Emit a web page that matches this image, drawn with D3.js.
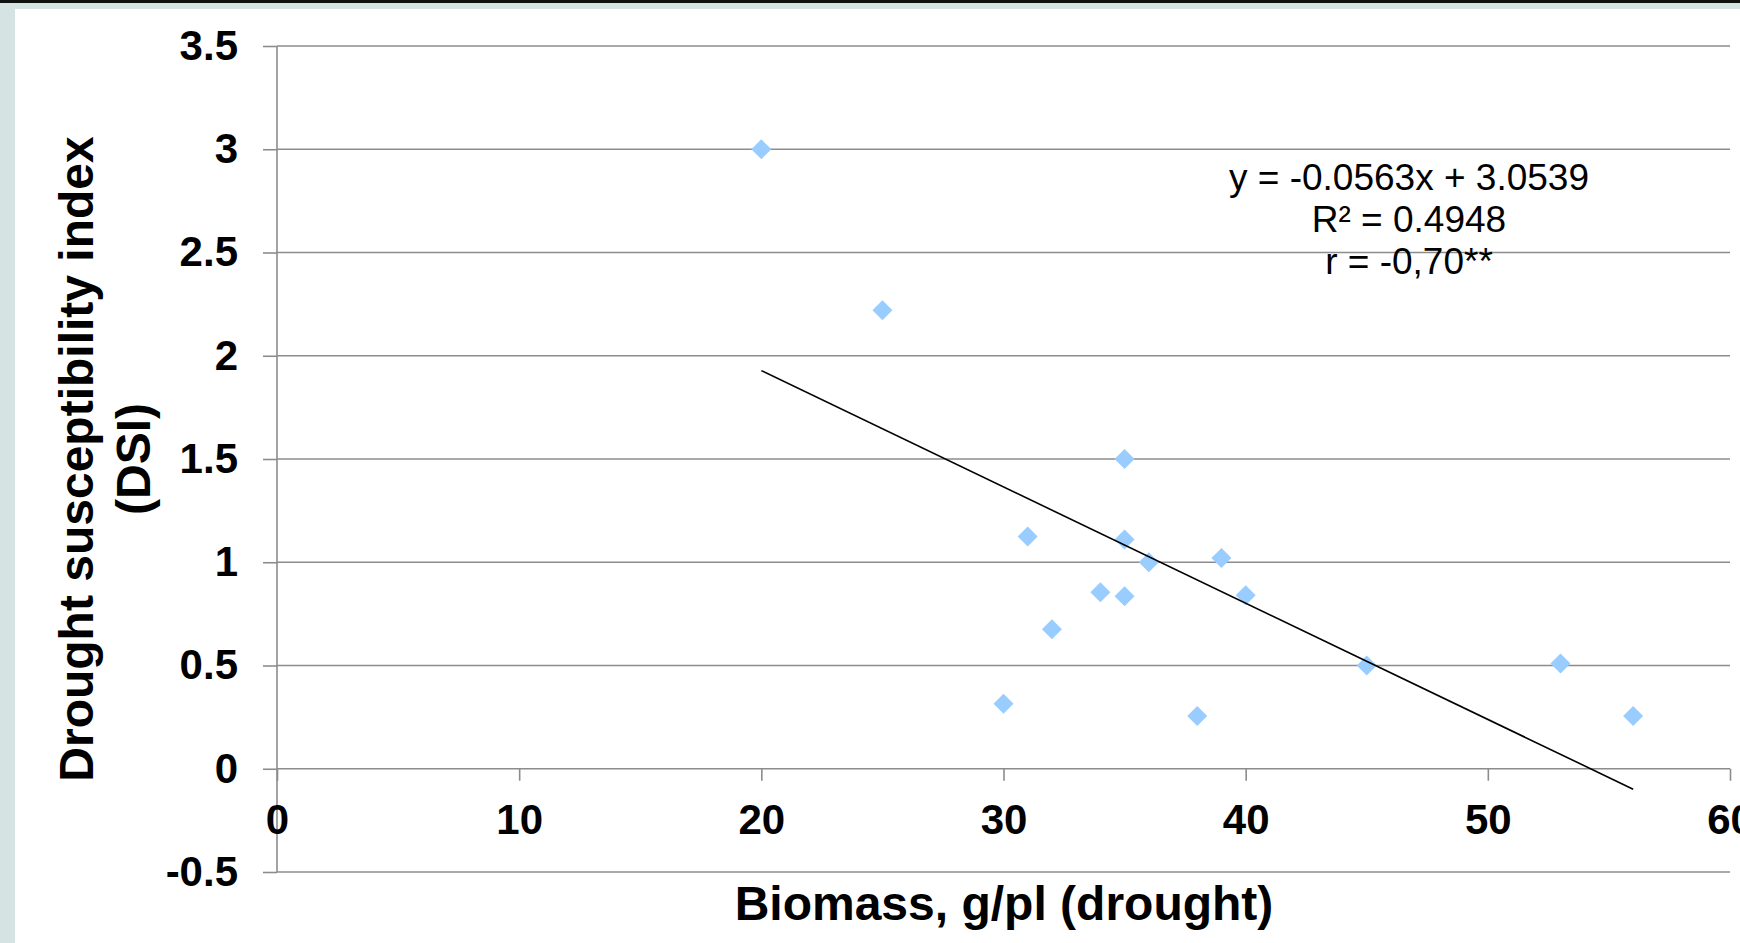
<!DOCTYPE html>
<html>
<head>
<meta charset="utf-8">
<script src="https://cdn.jsdelivr.net/npm/d3@7"></script>
<style>
  html, body { margin: 0; padding: 0; background: #fff; }
  svg { display: block; }
</style>
</head>
<body>
<svg id="chart" width="1740" height="943"></svg>
<script>
// ---- data ----
const biomass = [20, 25, 35, 31, 35, 36, 39, 40, 34, 35, 32, 45, 53, 30, 38, 56];
const dsi     = [3.0, 2.22, 1.5, 1.125, 1.11, 1.0, 1.02, 0.84, 0.855, 0.835, 0.675, 0.5, 0.51, 0.315, 0.255, 0.255];
const xTicks = [0, 10, 20, 30, 40, 50, 60];
const yTicks = [-0.5, 0, 0.5, 1, 1.5, 2, 2.5, 3, 3.5];
const trendSlope = -0.0563;
const trendIntercept = 3.0539;
const equationLines = ["y = -0.0563x + 3.0539", "R\u00B2 = 0.4948", "r = -0,70**"];
const xTitle = "Biomass, g/pl (drought)";
const yTitleLines = ["Drought susceptibility index", "(DSI)"];

// ---- layout ----
const svg = d3.select("#chart");
const W = 1740, H = 943;
const x = d3.scaleLinear().domain([0, 60]).range([277, 1730]);
const y = d3.scaleLinear().domain([-0.5, 3.5]).range([872, 46]);
const gridColor = "#8c8c8c";
const pointColor = "#99ccff";
const FONT = "'Liberation Sans', Arial, sans-serif";

// background frame
svg.append("rect").attr("x", 0).attr("y", 0).attr("width", W).attr("height", H).attr("fill", "#ffffff");
svg.append("rect").attr("x", 0).attr("y", 0).attr("width", W).attr("height", 9).attr("fill", "#d5e3e3");
svg.append("rect").attr("x", 0).attr("y", 0).attr("width", 15).attr("height", H).attr("fill", "#d5e3e3");
svg.append("rect").attr("x", 0).attr("y", 0).attr("width", W).attr("height", 3).attr("fill", "#111111");

// gridlines
svg.append("g").selectAll("line").data(yTicks).join("line")
  .attr("x1", x(0)).attr("x2", x(60))
  .attr("y1", d => y(d)).attr("y2", d => y(d))
  .attr("stroke", gridColor).attr("stroke-width", 1.6);

// y axis
const yAxis = svg.append("g").attr("transform", `translate(${x(0)},0)`)
  .call(d3.axisLeft(y).tickValues(yTicks).tickSize(14).tickPadding(25).tickFormat(d => String(d)));
yAxis.select(".domain").remove();
yAxis.selectAll(".tick line").attr("stroke", gridColor).attr("stroke-width", 1.6);
yAxis.selectAll(".tick text")
  .attr("font-family", FONT)
  .attr("font-size", 42).attr("font-weight", "bold").attr("fill", "#000");
svg.append("line").attr("x1", x(0)).attr("x2", x(0)).attr("y1", y(3.5)).attr("y2", y(-0.5))
  .attr("stroke", gridColor).attr("stroke-width", 1.6);

// x axis (at y = 0)
const xAxis = svg.append("g").attr("transform", `translate(0,${y(0)})`)
  .call(d3.axisBottom(x).tickValues(xTicks).tickSize(12).tickPadding(23).tickFormat(d => String(d)));
xAxis.select(".domain").remove();
xAxis.selectAll(".tick line").attr("stroke", gridColor).attr("stroke-width", 1.6);
xAxis.selectAll(".tick text")
  .attr("font-family", FONT)
  .attr("font-size", 42).attr("font-weight", "bold").attr("fill", "#000");

// points
const pts = biomass.map((b, i) => ({ x: b, y: dsi[i] }));
svg.append("g").selectAll("path").data(pts).join("path")
  .attr("d", d3.symbol(d3.symbolSquare, 200)())
  .attr("transform", d => `translate(${x(d.x)},${y(d.y)}) rotate(45)`)
  .attr("fill", pointColor);

// trend line
const [xmin, xmax] = d3.extent(biomass);
svg.append("line")
  .attr("x1", x(xmin)).attr("y1", y(trendSlope * xmin + trendIntercept))
  .attr("x2", x(xmax)).attr("y2", y(trendSlope * xmax + trendIntercept))
  .attr("stroke", "#000").attr("stroke-width", 1.6);

// equation text
svg.append("g").selectAll("text").data(equationLines).join("text")
  .attr("x", 1409).attr("y", (d, i) => 190 + i * 42)
  .attr("text-anchor", "middle")
  .attr("font-family", FONT)
  .attr("font-size", 37).attr("fill", "#000")
  .text(d => d);

// x title
svg.append("text")
  .attr("x", 1004).attr("y", 920)
  .attr("text-anchor", "middle")
  .attr("font-family", FONT)
  .attr("font-size", 48).attr("font-weight", "bold").attr("fill", "#000")
  .text(xTitle);

// y title
svg.append("g").attr("transform", "translate(0,459) rotate(-90)")
  .selectAll("text").data(yTitleLines).join("text")
  .attr("x", 0).attr("y", (d, i) => 93 + i * 57)
  .attr("text-anchor", "middle")
  .attr("font-family", FONT)
  .attr("font-size", 48).attr("font-weight", "bold").attr("fill", "#000")
  .text(d => d);
</script>
</body>
</html>
